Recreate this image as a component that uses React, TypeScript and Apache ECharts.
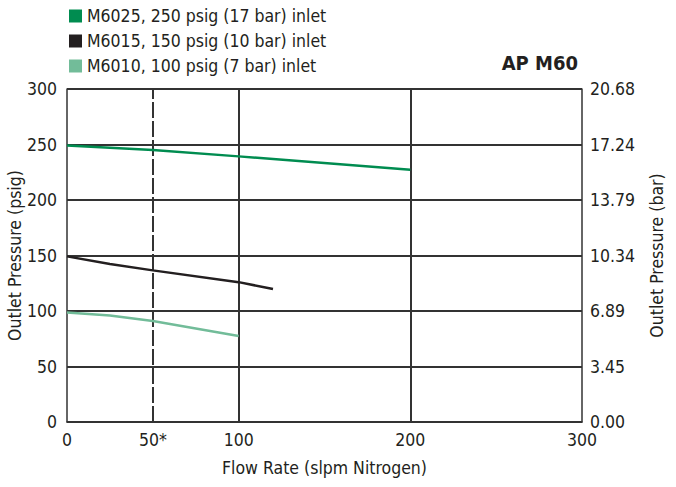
import React, { useEffect, useRef } from "react";
import * as echarts from "echarts";

const FONT = "'Liberation Sans Narrow', 'DejaVu Sans Condensed', 'Roboto Condensed', sans-serif";

const seriesNames = [
  "M6025, 250 psig (17 bar) inlet",
  "M6015, 150 psig (10 bar) inlet",
  "M6010, 100 psig (7 bar) inlet",
];
const seriesColors = ["#008C50", "#231F20", "#72BC99"];

const m6025 = [
  [0, 249],
  [50, 245],
  [100, 239.3],
  [200, 227.3],
];
const m6015 = [
  [0, 149.2],
  [25, 142.4],
  [50, 136.6],
  [100, 126],
  [120, 119.8],
];
const m6010 = [
  [0, 98.7],
  [25, 96],
  [50, 91],
  [100, 77.5],
];

const xTickValues = [0, 50, 100, 200, 300];
const xTickLabels = ["0", "50*", "100", "200", "300"];
const psigTicks = [0, 50, 100, 150, 200, 250, 300];
const barTickLabels = ["0.00", "3.45", "6.89", "10.34", "13.79", "17.24", "20.68"];
const solidVLines = [100, 200];
const dashedVLines = [50];

export default function App() {
  const ref = useRef<HTMLDivElement>(null);
  useEffect(() => {
    document.body.style.margin = "0";
    if (!ref.current) return;
    const chart = echarts.init(ref.current, null, { renderer: "svg" });
    const textStyle = { fontFamily: FONT, fontSize: 17.5, color: "#231F20" };
    const datasets = [m6025, m6015, m6010];
    chart.setOption({
      animation: false,
      textStyle: { fontFamily: FONT },
      title: {
        text: "AP M60",
        right: 93,
        top: 48,
        textStyle: { fontFamily: FONT, fontSize: 20, fontWeight: "bold", color: "#231F20" },
      },
      legend: {
        orient: "vertical",
        left: 64,
        top: 2,
        itemWidth: 13,
        itemHeight: 13,
        itemGap: 7,
        icon: "rect",
        data: seriesNames,
        textStyle: { ...textStyle, padding: [0, 0, 0, 0] },
      },
      grid: { left: 67, right: 94, top: 89, bottom: 65, containLabel: false, outerBoundsMode: "none" },
      xAxis: {
        type: "value",
        min: 0,
        max: 300,
        interval: 50,
        name: "Flow Rate (slpm Nitrogen)",
        nameLocation: "middle",
        nameGap: 37,
        nameMoveOverlap: false,
        nameTextStyle: textStyle,
        axisLine: { show: true, lineStyle: { color: "#333", width: 1.5 } },
        axisTick: { show: false },
        splitLine: { show: false },
        axisLabel: {
          ...textStyle,
          margin: 9,
          customValues: xTickValues,
          formatter: (v: number) => {
            const i = xTickValues.indexOf(v);
            return i >= 0 ? xTickLabels[i] : "";
          },
        },
      },
      yAxis: [
        {
          type: "value",
          min: 0,
          max: 300,
          interval: 50,
          position: "left",
          name: "Outlet Pressure (psig)",
          nameLocation: "middle",
          nameGap: 43,
          nameMoveOverlap: false,
          nameTextStyle: textStyle,
          axisLine: { show: true, lineStyle: { color: "#333", width: 1.5 } },
          axisTick: { show: false },
          splitLine: { show: true, lineStyle: { color: "#333", width: 2 } },
          axisLabel: { ...textStyle, margin: 10 },
        },
        {
          type: "value",
          min: 0,
          max: 300,
          interval: 50,
          position: "right",
          name: "Outlet Pressure (bar)",
          nameLocation: "middle",
          nameGap: 66,
          nameMoveOverlap: false,
          nameTextStyle: textStyle,
          axisLine: { show: true, lineStyle: { color: "#333", width: 1.5 } },
          axisTick: { show: false },
          splitLine: { show: false },
          axisLabel: {
            ...textStyle,
            margin: 8,
            formatter: (v: number) => {
              const i = psigTicks.indexOf(v);
              return i >= 0 ? barTickLabels[i] : "";
            },
          },
        },
      ],
      series: [
        {
          name: "__grid",
          type: "line",
          data: [],
          silent: true,
          markLine: {
            silent: true,
            symbol: "none",
            label: { show: false },
            data: [
              ...solidVLines.map((x) => ({ xAxis: x, lineStyle: { color: "#333", width: 2, type: "solid" } })),
              ...dashedVLines.map((x) => ({ xAxis: x, lineStyle: { color: "#333", width: 2, type: [16, 3] } })),
            ],
          },
        },
        ...seriesNames.map((name, i) => ({
          name,
          type: "line",
          data: datasets[i],
          showSymbol: false,
          symbol: "none",
          smooth: false,
          z: 5,
          lineStyle: { color: seriesColors[i], width: 2.5 },
          itemStyle: { color: seriesColors[i] },
        })),
      ],
    });
    return () => chart.dispose();
  }, []);
  return <div ref={ref} style={{ width: 676, height: 487 }} />;
}
